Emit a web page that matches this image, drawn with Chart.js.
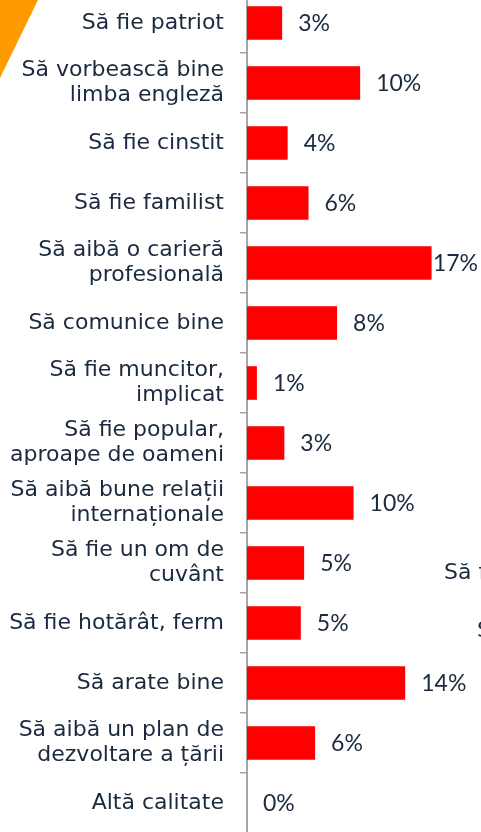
<!DOCTYPE html>
<html>
<head>
<meta charset="utf-8">
<script src="https://cdn.jsdelivr.net/npm/chart.js@4/dist/chart.umd.min.js"></script>
<style>
  html, body { margin: 0; padding: 0; background: #fff; }
  body { width: 481px; height: 832px; position: relative; overflow: hidden; }
  #wrap { position: absolute; left: 0; top: -7px; width: 481px; height: 840px; }
  .corner { position: absolute; left: 0; top: 0; width: 38px; height: 78px; background: #ff9a00;
            clip-path: polygon(0 0, 100% 0, 0 100%); }
  .cut { position: absolute; font: 22px "DejaVu Sans"; line-height: 25px; color: #1b2a3e; white-space: nowrap; }
</style>
</head>
<body>
<div class="corner"></div>
<div id="wrap"><canvas id="chart"></canvas></div>
<div class="cut" style="left:444px; top:559px;">Să fie un om de cuvânt</div>
<div class="cut" style="left:477px; top:617px;">Să fie hotărât, ferm</div>
<script>
const categories = [
    ['Să fie patriot'],
    ['Să vorbească bine', 'limba engleză'],
    ['Să fie cinstit'],
    ['Să fie familist'],
    ['Să aibă o carieră', 'profesională'],
    ['Să comunice bine'],
    ['Să fie muncitor,', 'implicat'],
    ['Să fie popular,', 'aproape de oameni'],
    ['Să aibă bune relații', 'internaționale'],
    ['Să fie un om de', 'cuvânt'],
    ['Să fie hotărât, ferm'],
    ['Să arate bine'],
    ['Să aibă un plan de', 'dezvoltare a țării'],
    ['Altă calitate']
];
const values = [3.2, 10.3, 3.7, 5.6, 16.8, 8.2, 0.9, 3.4, 9.7, 5.2, 4.9, 14.4, 6.2, 0];
const valueLabels = ['3%', '10%', '4%', '6%', '17%', '8%', '1%', '3%', '10%', '5%', '5%', '14%', '6%', '0%'];

const textColor = '#1b2a3e';
const axisColor = '#a6a6a6';

// etichete de valoare lângă bare
const valueLabelPlugin = {
    id: 'valueLabels',
    afterDatasetsDraw(chart) {
        const ctx = chart.ctx;
        const meta = chart.getDatasetMeta(0);
        ctx.save();
        ctx.font = '23px Lato';
        ctx.fillStyle = textColor;
        ctx.textBaseline = 'middle';
        ctx.textAlign = 'left';
        meta.data.forEach((bar, i) => {
            const txt = valueLabels[i];
            const w = ctx.measureText(txt).width;
            let x = bar.x + 16;
            if (x + w > chart.width - 3) x = chart.width - 3 - w;
            ctx.fillText(txt, x, bar.y + 1);
        });
        ctx.restore();
    }
};

new Chart(document.getElementById('chart'), {
    type: 'bar',
    data: {
        labels: categories,
        datasets: [{
            data: values,
            backgroundColor: '#ff0000',
            borderWidth: 0,
            barPercentage: 0.56,
            categoryPercentage: 1.0
        }]
    },
    options: {
        indexAxis: 'y',
        responsive: true,
        maintainAspectRatio: false,
        animation: false,
        layout: { padding: 0 },
        plugins: {
            legend: { display: false },
            tooltip: { enabled: false }
        },
        scales: {
            x: {
                display: false,
                min: 0,
                max: 21.3
            },
            y: {
                offset: true,
                grid: {
                    offset: true,
                    drawOnChartArea: false,
                    drawTicks: true,
                    tickLength: 7,
                    color: axisColor,
                    lineWidth: 1.5
                },
                border: { display: true, color: axisColor, width: 2 },
                ticks: {
                    padding: 16,
                    color: textColor,
                    font: { family: 'DejaVu Sans', size: 22, lineHeight: 1.14 }
                },
                afterFit(scale) {
                    scale.width = 247;
                    scale.paddingTop = 0;
                    scale.paddingBottom = 0;
                }
            }
        }
    },
    plugins: [valueLabelPlugin]
});
</script>
</body>
</html>
